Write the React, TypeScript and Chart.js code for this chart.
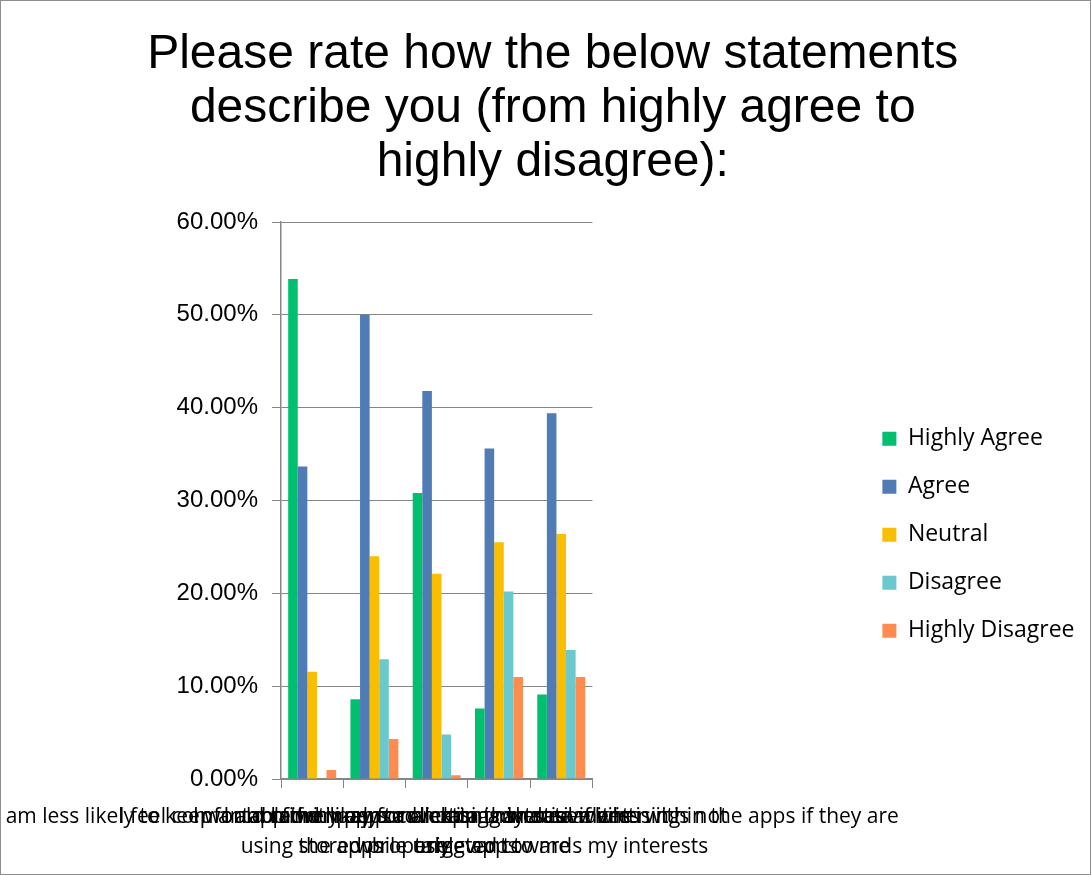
import { useEffect, useRef } from 'react';
import { Chart, registerables } from 'chart.js';

Chart.register(...registerables);

// Statements rated in the survey (each split over two lines)
const statements: string[][] = [
  ['I am less likely to keep an app if my personal data is shared while', 'using the apps'],
  ['I feel comfortable with apps collecting my data if it is', 'stored properly'],
  ['I would rather pay for an app than see advertising', 'while using apps'],
  ['I find in-app advertising intrusive when it is not', 'relevant to me'],
  ['I am more likely to click on advertisements within the apps if they are', 'targeted towards my interests'],
];

// Share of respondents (%) for each answer, per statement
const highlyAgree = [53.85, 8.6, 30.8, 7.6, 9.1];
const agree = [33.65, 50.0, 41.8, 35.6, 39.4];
const neutral = [11.54, 24.0, 22.1, 25.5, 26.4];
const disagree = [0, 12.9, 4.8, 20.2, 13.9];
const highlyDisagree = [0.96, 4.3, 0.4, 11.0, 11.0];

const seriesNames = ['Highly Agree', 'Agree', 'Neutral', 'Disagree', 'Highly Disagree'];
const seriesColors = ['#00BF6F', '#507CB6', '#F9BE00', '#6BC8CD', '#FF8B4F'];

const titleLines = [
  'Please rate how the below statements',
  'describe you (from highly agree to',
  'highly disagree):',
];

const yTicksMax = 60;
const yTickStep = 10;

const GRID = '#868686';

// Writes the wrapped statement text under each category
const statementLabels = {
  id: 'statementLabels',
  afterDraw(chart: any) {
    const xs = chart.scales.x;
    const ctx = chart.ctx;
    ctx.save();
    ctx.font = '21px "Open Sans"';
    ctx.fillStyle = '#000';
    ctx.textAlign = 'center';
    ctx.textBaseline = 'middle';
    (chart.data.labels as string[][]).forEach((lines, i) => {
      const x = xs.getPixelForValue(i);
      lines.forEach((line, j) => ctx.fillText(line, x, xs.top + 38 + j * 30));
    });
    ctx.restore();
  },
};

export default function App() {
  const canvasRef = useRef<HTMLCanvasElement>(null);

  useEffect(() => {
    document.body.style.margin = '0';
    const values = [highlyAgree, agree, neutral, disagree, highlyDisagree];
    const chart = new Chart(canvasRef.current!, {
      type: 'bar',
      data: {
        labels: statements,
        datasets: values.map((data, i) => ({
          label: seriesNames[i],
          data,
          backgroundColor: seriesColors[i],
          borderWidth: 0,
          categoryPercentage: 0.77,
          barPercentage: 1.0,
          yAxisID: 'y',
        })),
      },
      plugins: [statementLabels],
      options: {
        responsive: false,
        animation: false,
        layout: { padding: { left: 20, right: 5.5, top: 0, bottom: 0 } },
        scales: {
          x: {
            type: 'category',
            offset: true,
            grid: {
              display: true,
              drawOnChartArea: false,
              drawTicks: true,
              tickLength: 9,
              color: GRID,
              offset: true,
            },
            border: { display: true, color: GRID, width: 1.5 },
            ticks: { display: false },
            afterFit: (s: any) => {
              s.height = 95;
            },
          },
          y: {
            position: 'left',
            min: 0,
            max: yTicksMax,
            ticks: {
              stepSize: yTickStep,
              callback: (v: any) => Number(v).toFixed(2) + '%',
              font: { family: 'Liberation Sans', size: 24 },
              color: '#000',
              padding: 14,
            },
            grid: { color: GRID, lineWidth: 1, tickLength: 9 },
            border: { display: true, color: GRID, width: 1.5 },
            afterFit: (s: any) => {
              s.width = 260;
            },
          },
          y2: {
            position: 'right',
            display: true,
            grid: { display: false },
            border: { display: false },
            ticks: { display: false },
            afterFit: (s: any) => {
              s.width = 265;
            },
          },
        },
        plugins: {
          title: {
            display: true,
            text: titleLines,
            color: '#000',
            font: { family: 'Liberation Sans', size: 48, weight: 'normal', lineHeight: 1.125 },
            padding: { top: 27, bottom: 32 },
          },
          legend: {
            position: 'right',
            fullSize: false,
            maxWidth: 320,
            title: { display: true, text: ' ', padding: { top: 27, bottom: 27 }, font: { size: 12 } },
            labels: {
              boxWidth: 14,
              boxHeight: 14,
              padding: 25,
              color: '#000',
              font: { family: 'Open Sans', size: 23 },
            },
          },
          tooltip: { enabled: false },
        },
      },
    });
    return () => chart.destroy();
  }, []);

  return (
    <div
      style={{
        position: 'absolute',
        left: 0,
        top: 0,
        width: 1091,
        height: 875,
        boxSizing: 'border-box',
        border: '1px solid #8e8e8e',
        background: '#fff',
      }}
    >
      <canvas ref={canvasRef} width={1089} height={873} style={{ display: 'block', width: 1089, height: 873 }} />
    </div>
  );
}
